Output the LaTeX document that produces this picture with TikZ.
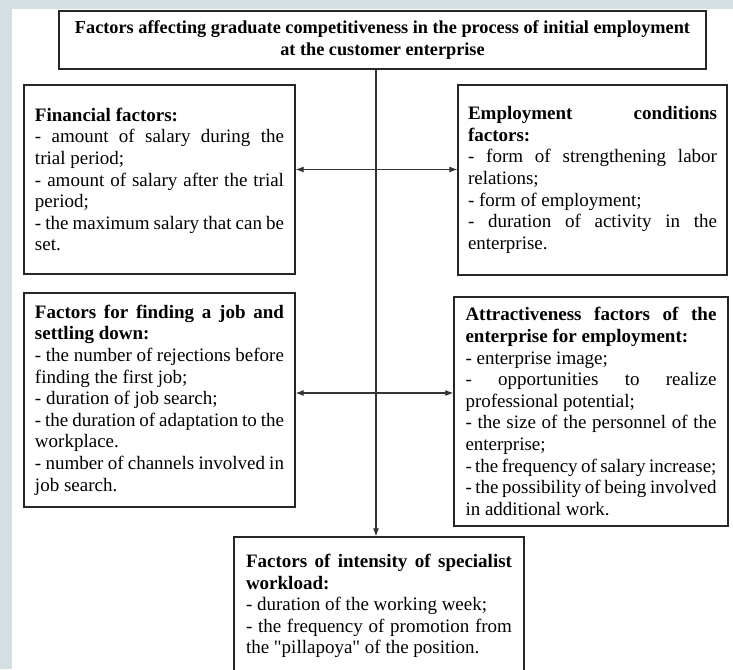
\documentclass[tikz,border=0pt]{standalone}
\usepackage{fontspec}
\setmainfont{Liberation Serif}
\usetikzlibrary{positioning, arrows.meta, calc}
\tikzset{every node/.append style={execute at begin node={\hyphenpenalty=10000\exhyphenpenalty=10000\relax}}}
\definecolor{slide}{RGB}{211,223,224}

\begin{document}
\begin{tikzpicture}[x=0.75pt,y=-0.75pt,>={Latex[length=6pt,width=4.5pt]},
  box/.style={draw=black!85,line width=0.9pt,align=justify,inner xsep=0pt,inner ysep=0pt,
    font=\fontsize{14.25}{16.2}\selectfont},
  link/.style={black!80,line width=0.8pt}]
  \useasboundingbox (0,0) rectangle (733,669);
  % slide margins
  \fill[slide] (0,0) rectangle (733,9);
  \fill[slide] (0,0) rectangle (12,669);

  \node[box,align=center,minimum width=485.25pt,minimum height=43.5pt,
    font=\fontsize{13.7}{15.8}\selectfont\bfseries] (title) at (382.5,40)
    {Factors affecting graduate competitiveness in the process of initial employment\\
     at the customer enterprise};

  \node[box,text width=186.75pt,minimum width=203.25pt,minimum height=141.75pt] (fin) at (159.5,179.5)
    {\textbf{Financial factors:}\\
     - amount of salary during the\linebreak trial period;\\
     - amount of salary after the trial\linebreak period;\\
     - the maximum salary that can be\linebreak set.};
  \node[box,text width=186.75pt,minimum width=201.75pt,minimum height=142.5pt] (emp) at (592.5,180)
    {\textbf{Employment conditions\linebreak factors:}\\
     - form of strengthening labor\linebreak relations;\\
     - form of employment;\\
     - duration of activity in the\linebreak enterprise.};

  \node[box,text width=186.75pt,minimum width=203.25pt,minimum height=160.5pt] (job) at (159.5,400)
    {\textbf{Factors for finding a job and\linebreak settling down:}\\
     - the number of rejections before\linebreak finding the first job;\\
     - duration of job search;\\
     - the duration of adaptation to the\linebreak workplace.\\
     - number of channels involved in\linebreak job search.};
  \node[box,text width=188.25pt,minimum width=205.5pt,minimum height=171.75pt] (attr) at (591,411.5)
    {\textbf{Attractiveness factors of the\linebreak enterprise for employment:}\\
     - enterprise image;\\
     - opportunities to realize\linebreak professional potential;\\
     - the size of the personnel of the\linebreak enterprise;\\
     - the frequency of salary increase;\\
     - the possibility of being involved\linebreak in additional work.};

  \node[box,text width=199.5pt,minimum width=217.5pt,minimum height=103.5pt] (work) at (379,606)
    {\textbf{Factors of intensity of specialist\linebreak workload:}\\
     - duration of the working week;\\
     - the frequency of promotion from\linebreak the \textquotedbl pillapoya\textquotedbl{} of the position.};

  % trunk from the title down to the workload box
  \coordinate (trunk) at (376,0);
  \draw[link,->] (title.south -| trunk) -- (work.north -| trunk);
  \draw[link,<->] ($(fin.east)+(0,-10)$) coordinate (l1) -- (l1 -| emp.west);
  \draw[link,<->] ($(job.east)+(0,-7)$) coordinate (l2) -- (l2 -| attr.west);
\end{tikzpicture}
\end{document}
